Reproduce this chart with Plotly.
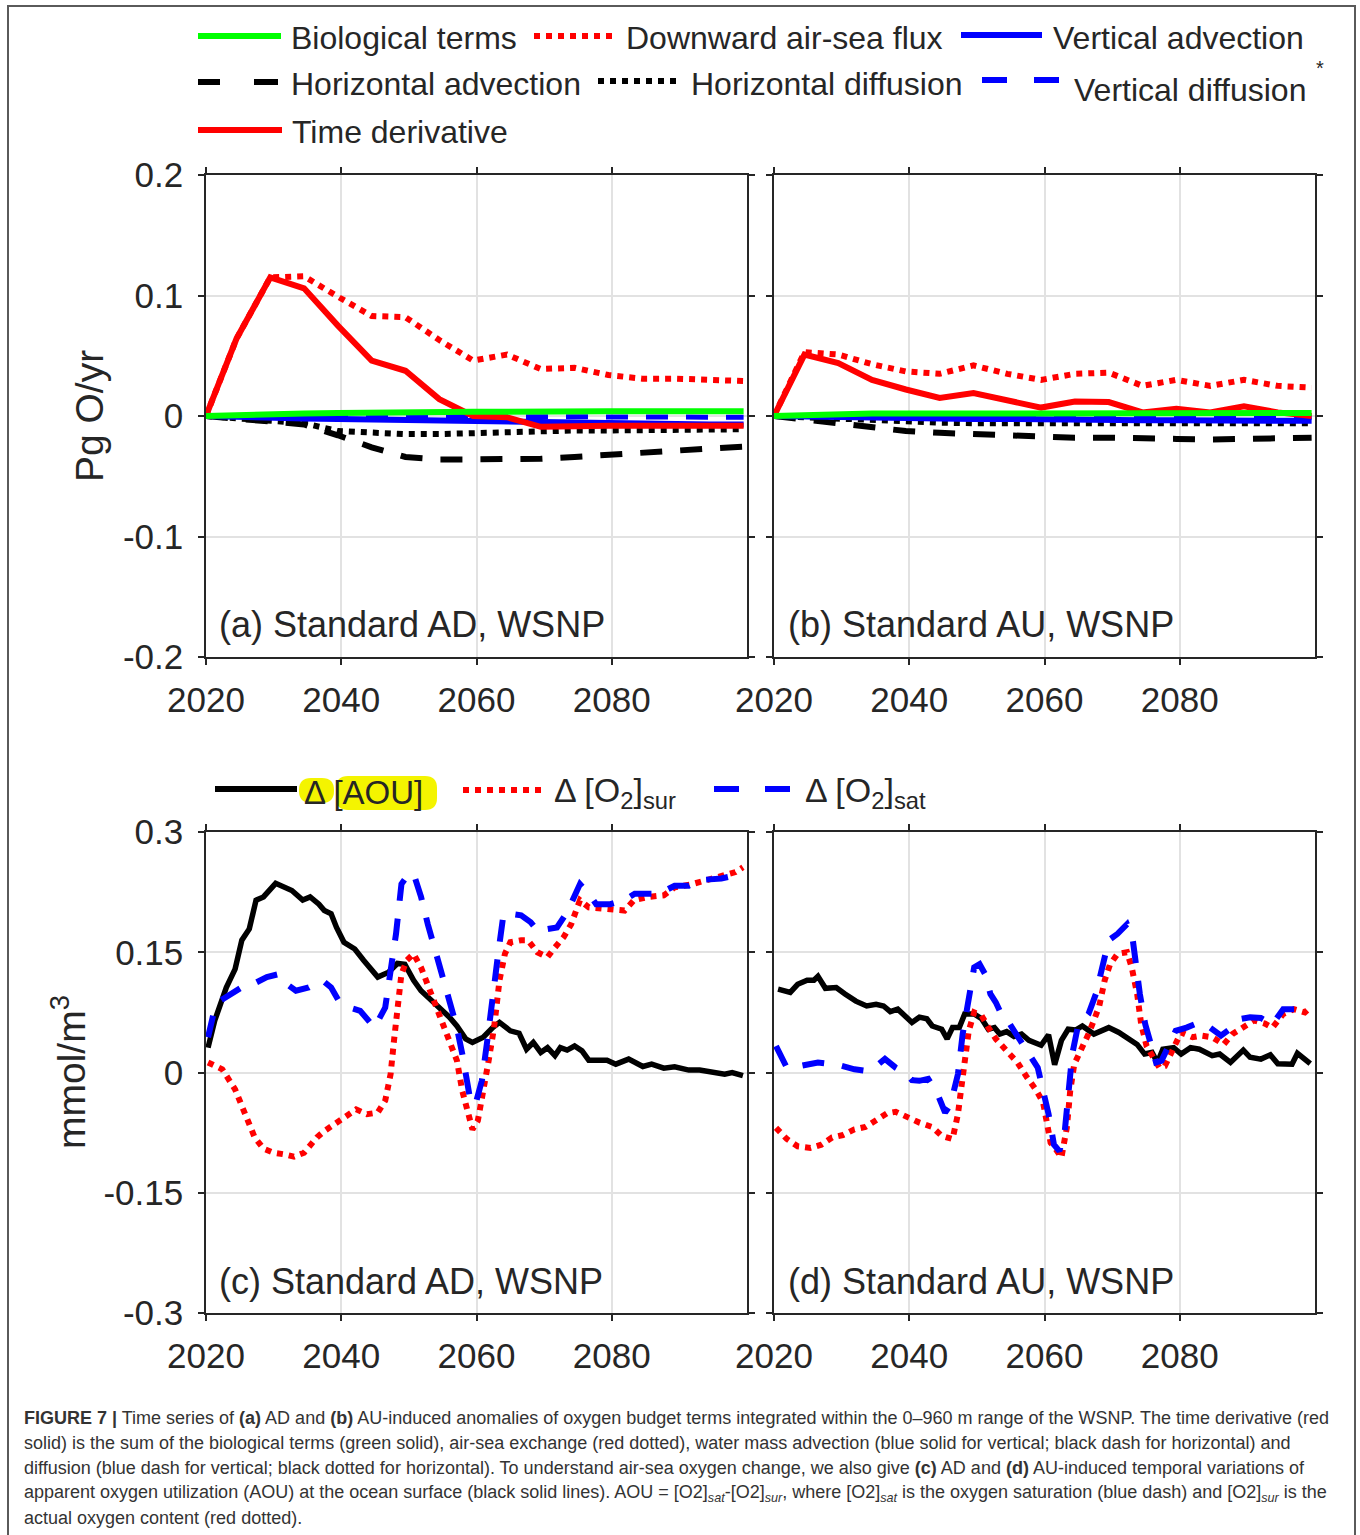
import plotly.graph_objects as go

W, H = 1360, 1535
FONT = "Liberation Sans, Arial, Helvetica, sans-serif"
INK = "#262626"


def px(x):
    return x / W


def py(y):
    return 1 - y / H


# ---------------- Panels (a) and (b): budget terms (Pg O/yr) ----------------
years5 = [2020, 2024.5, 2029.5, 2034.5, 2039.5, 2044.5, 2049.5, 2054.5, 2059.5,
          2064.5, 2069.5, 2074.5, 2079.5, 2084.5, 2089.5, 2094.5, 2099.5]

bio_a = [0, 0.001, 0.0015, 0.002, 0.0025, 0.003, 0.003, 0.0035, 0.0035,
         0.0035, 0.004, 0.004, 0.004, 0.004, 0.004, 0.004, 0.004]
airsea_a = [0, 0.064, 0.115, 0.116, 0.099, 0.083, 0.082, 0.063, 0.046,
            0.051, 0.039, 0.040, 0.034, 0.031, 0.031, 0.030, 0.029]
vadv_a = [0, -0.001, -0.0015, -0.002, -0.0025, -0.003, -0.0035, -0.004, -0.0045,
          -0.005, -0.0055, -0.006, -0.006, -0.0065, -0.0065, -0.007, -0.007]
hadv_a = [0, -0.002, -0.004, -0.007, -0.016, -0.026, -0.034, -0.036, -0.036,
          -0.036, -0.0355, -0.034, -0.032, -0.030, -0.029, -0.027, -0.0255]
hdiff_a = [0, -0.002, -0.003, -0.006, -0.0125, -0.014, -0.015, -0.015, -0.014,
           -0.013, -0.013, -0.012, -0.012, -0.012, -0.011, -0.011, -0.011]
vdiff_a = [0, 0, -0.0005, -0.0005, -0.001, -0.001, -0.001, -0.001, -0.001,
           -0.001, -0.001, -0.001, -0.001, -0.001, -0.001, -0.001, -0.001]
tend_a = [0, 0.064, 0.115, 0.106, 0.075, 0.046, 0.0375, 0.014, 0.0,
          -0.001, -0.009, -0.008, -0.008, -0.008, -0.008, -0.008, -0.008]

bio_b = [0, 0.001, 0.0015, 0.002, 0.002, 0.002, 0.002, 0.0025, 0.0025,
         0.0025, 0.0025, 0.0025, 0.0025, 0.0025, 0.0025, 0.0025, 0.0025]
airsea_b = [0, 0.053, 0.051, 0.043, 0.037, 0.035, 0.042, 0.035, 0.030,
            0.035, 0.036, 0.025, 0.030, 0.025, 0.030, 0.025, 0.0235]
vadv_b = [0, -0.0005, -0.001, -0.0015, -0.002, -0.002, -0.0025, -0.0025, -0.003,
          -0.003, -0.003, -0.0035, -0.0035, -0.0035, -0.004, -0.004, -0.004]
hadv_b = [0, -0.003, -0.006, -0.010, -0.0125, -0.014, -0.015, -0.017, -0.018,
          -0.018, -0.018, -0.019, -0.019, -0.0195, -0.019, -0.019, -0.018]
hdiff_b = [0, -0.001, -0.002, -0.004, -0.005, -0.0055, -0.006, -0.006, -0.006,
           -0.006, -0.006, -0.006, -0.006, -0.006, -0.006, -0.006, -0.006]
vdiff_b = [0, 0, -0.0005, -0.0005, -0.001, -0.001, -0.001, -0.001, -0.001,
           -0.001, -0.001, -0.001, -0.001, -0.001, -0.001, -0.001, -0.001]
tend_b = [0, 0.051, 0.044, 0.030, 0.022, 0.015, 0.019, 0.013, 0.007,
          0.012, 0.0116, 0.003, 0.006, 0.003, 0.008, 0.003, 0.0]

# ---------------- Panel (c): AD surface anomalies (mmol/m3) ----------------
aou_c_years = [2020.3, 2021.3, 2023.0, 2024.3, 2025.3, 2026.4, 2027.4, 2028.5, 2030.3,
               2032.7, 2034.3, 2035.4, 2036.7, 2037.5, 2038.5, 2039.3, 2040.4, 2042.0,
               2043.3, 2044.4, 2045.4, 2047.0, 2048.3, 2049.4, 2050.7, 2051.8, 2053.4,
               2054.4, 2056.0, 2057.1, 2058.4, 2059.4, 2061.0, 2062.4, 2063.4, 2065.0,
               2066.3, 2067.4, 2068.4, 2069.5, 2070.5, 2071.6, 2072.4, 2073.4, 2074.5,
               2075.6, 2076.6, 2079.3, 2080.6, 2082.5, 2084.6, 2085.9, 2087.7, 2089.3,
               2091.4, 2093.0, 2095.1, 2096.7, 2097.8, 2099.4]
aou_c = [0.031, 0.065, 0.106, 0.129, 0.165, 0.179, 0.215, 0.219, 0.236,
         0.227, 0.215, 0.219, 0.210, 0.202, 0.198, 0.181, 0.1625, 0.154,
         0.140, 0.129, 0.119, 0.125, 0.136, 0.135, 0.115, 0.102, 0.090,
         0.081, 0.069, 0.058, 0.042, 0.0375, 0.044, 0.056, 0.0625, 0.052,
         0.049, 0.029, 0.0375, 0.025, 0.031, 0.021, 0.031, 0.028, 0.033,
         0.027, 0.0154, 0.0154, 0.0104, 0.0167, 0.0075, 0.0104, 0.0054, 0.0071,
         0.003, 0.003, 0.0, -0.002, 0.0, -0.004]

sur_c_years = [2020.3, 2022.4, 2024.3, 2025.8, 2027.2, 2028.5, 2030.0, 2031.5, 2033.0,
               2034.5, 2035.5, 2036.4, 2037.5, 2039.0, 2040.7, 2042.2, 2043.8, 2045.4,
               2046.5, 2047.3, 2047.8, 2048.3, 2048.9, 2049.7, 2050.7, 2051.8, 2052.8,
               2053.9, 2054.9, 2056.0, 2057.1, 2057.9, 2058.7, 2059.4, 2060.2, 2061.0,
               2061.8, 2062.6, 2063.4, 2064.2, 2065.0, 2066.6, 2067.6, 2069.0, 2070.5,
               2071.6, 2072.9, 2074.0, 2075.3, 2076.6, 2078.8, 2080.2, 2081.9, 2083.3,
               2085.4, 2087.7, 2089.3, 2091.9, 2094.0, 2096.2, 2098.3, 2099.4]
sur_c = [0.0125, 0.004, -0.021, -0.052, -0.081, -0.095, -0.100, -0.102, -0.105,
         -0.100, -0.090, -0.081, -0.073, -0.065, -0.056, -0.046, -0.052, -0.050,
         -0.035, -0.002, 0.040, 0.081, 0.123, 0.140, 0.148, 0.131, 0.110,
         0.085, 0.065, 0.040, 0.015, -0.023, -0.052, -0.071, -0.060, -0.027,
         0.015, 0.056, 0.115, 0.148, 0.1625, 0.165, 0.165, 0.150, 0.144,
         0.156, 0.169, 0.185, 0.215, 0.206, 0.204, 0.204, 0.202, 0.215,
         0.219, 0.221, 0.231, 0.235, 0.240, 0.246, 0.250, 0.256]

sat_c_years = [2020.3, 2021.1, 2022.2, 2024.3, 2025.6, 2026.9, 2029.0, 2030.9, 2032.0,
               2033.3, 2035.2, 2037.2, 2038.5, 2039.6, 2041.2, 2042.8, 2043.8, 2044.9,
               2046.5, 2047.3, 2048.1, 2048.9, 2050.0, 2050.7, 2051.8, 2052.8, 2053.9,
               2054.9, 2056.0, 2057.1, 2057.9, 2058.7, 2059.2, 2060.0, 2060.8, 2061.6,
               2062.4, 2063.2, 2064.0, 2065.0, 2066.6, 2068.0, 2069.2, 2070.5, 2071.9,
               2073.4, 2075.3, 2076.6, 2077.7, 2079.8, 2081.9, 2083.4, 2084.8, 2087.0,
               2089.3, 2091.4, 2093.0, 2096.2, 2099.4]
sat_c = [0.044, 0.073, 0.090, 0.100, 0.108, 0.110, 0.119, 0.123, 0.110,
         0.102, 0.106, 0.115, 0.106, 0.090, 0.081, 0.077, 0.067, 0.056,
         0.081, 0.123, 0.173, 0.235, 0.248, 0.248, 0.219, 0.185, 0.152,
         0.123, 0.094, 0.056, 0.023, -0.019, -0.040, -0.035, -0.010, 0.040,
         0.102, 0.148, 0.198, 0.198, 0.196, 0.1875, 0.175, 0.179, 0.181,
         0.200, 0.235, 0.223, 0.210, 0.210, 0.215, 0.223, 0.223, 0.223,
         0.233, 0.233, 0.240, 0.242, 0.248]

# ---------------- Panel (d): AU surface anomalies (mmol/m3) ----------------
aou_d_years = [2020.6, 2022.4, 2023.5, 2024.9, 2025.9, 2026.5, 2027.6, 2029.2, 2030.5,
               2032.1, 2033.7, 2035.1, 2036.2, 2037.2, 2038.3, 2039.4, 2040.4, 2041.5,
               2042.6, 2043.4, 2044.8, 2045.6, 2046.4, 2047.4, 2048.2, 2049.6, 2050.7,
               2051.7, 2052.6, 2053.4, 2054.4, 2055.5, 2056.6, 2057.7, 2059.5, 2060.6,
               2061.5, 2062.5, 2063.5, 2064.6, 2065.6, 2067.3, 2069.5, 2071.0, 2072.6,
               2073.7, 2074.8, 2075.9, 2076.7, 2077.5, 2079.1, 2080.2, 2081.6, 2082.9,
               2084.8, 2085.9, 2087.5, 2089.4, 2090.4, 2092.0, 2093.4, 2094.5, 2096.6,
               2097.4, 2099.3]
aou_d = [0.104, 0.100, 0.110, 0.115, 0.115, 0.120, 0.105, 0.106, 0.098,
         0.089, 0.083, 0.085, 0.083, 0.076, 0.079, 0.071, 0.0625, 0.069,
         0.067, 0.058, 0.054, 0.042, 0.056, 0.056, 0.073, 0.073, 0.067,
         0.054, 0.056, 0.048, 0.051, 0.045, 0.048, 0.040, 0.034, 0.047,
         0.0096, 0.040, 0.054, 0.053, 0.058, 0.048, 0.056, 0.050, 0.042,
         0.035, 0.023, 0.025, 0.0125, 0.029, 0.031, 0.023, 0.031, 0.029,
         0.021, 0.023, 0.0125, 0.028, 0.019, 0.0167, 0.022, 0.011, 0.0104,
         0.024, 0.011]

sur_d_years = [2020.3, 2021.9, 2023.5, 2025.4, 2027.0, 2028.6, 2030.2, 2031.9, 2033.5,
               2035.1, 2036.7, 2038.0, 2039.9, 2041.5, 2043.4, 2044.8, 2046.4, 2047.2,
               2047.7, 2048.3, 2048.8, 2049.6, 2050.7, 2051.7, 2052.8, 2054.4, 2056.0,
               2057.4, 2058.7, 2059.8, 2060.3, 2060.9, 2061.7, 2062.5, 2063.3, 2063.8,
               2064.4, 2065.4, 2066.5, 2067.3, 2068.1, 2068.9, 2069.7, 2070.8, 2072.2,
               2072.9, 2073.7, 2074.3, 2075.1, 2076.2, 2077.0, 2077.8, 2078.9, 2080.2,
               2081.9, 2083.2, 2084.8, 2086.5, 2087.8, 2089.4, 2091.0, 2092.6, 2093.7,
               2095.3, 2096.9, 2098.5, 2099.0]
sur_d = [-0.069, -0.083, -0.092, -0.094, -0.090, -0.081, -0.078, -0.071, -0.068,
         -0.060, -0.051, -0.049, -0.057, -0.0625, -0.068, -0.079, -0.083, -0.052,
         -0.019, 0.019, 0.052, 0.075, 0.071, 0.056, 0.042, 0.027, 0.0125,
         -0.006, -0.021, -0.0375, -0.060, -0.0875, -0.096, -0.106, -0.069, -0.023,
         0.0104, 0.027, 0.048, 0.065, 0.083, 0.115, 0.135, 0.148, 0.150,
         0.131, 0.098, 0.060, 0.033, 0.017, 0.006, 0.008, 0.027, 0.050,
         0.044, 0.046, 0.044, 0.035, 0.048, 0.056, 0.065, 0.061, 0.056,
         0.073, 0.079, 0.075, 0.079]

sat_d_years = [2020.3, 2021.1, 2021.9, 2023.8, 2026.5, 2029.4, 2031.9, 2033.7, 2035.1,
               2036.4, 2038.0, 2039.6, 2040.4, 2041.5, 2042.8, 2044.2, 2045.3, 2046.1,
               2047.2, 2047.9, 2048.8, 2049.6, 2050.4, 2051.2, 2052.0, 2052.8, 2053.6,
               2054.4, 2055.5, 2056.6, 2057.9, 2059.0, 2059.8, 2060.6, 2061.4, 2062.2,
               2063.0, 2063.6, 2064.1, 2064.9, 2066.5, 2067.6, 2068.7, 2069.5, 2070.8,
               2072.2, 2073.0, 2073.5, 2074.1, 2074.9, 2075.7, 2076.5, 2077.3, 2078.1,
               2079.4, 2081.0, 2082.9, 2084.5, 2086.1, 2087.7, 2089.1, 2090.4, 2092.0,
               2093.7, 2095.3, 2096.9, 2099.0]
sat_d = [0.033, 0.019, 0.006, 0.008, 0.0125, 0.0096, 0.004, 0.002, 0.008,
         0.017, 0.006, -0.002, -0.0096, -0.0104, -0.008, -0.027, -0.050, -0.040,
         -0.002, 0.048, 0.090, 0.131, 0.135, 0.123, 0.098, 0.0875, 0.073,
         0.067, 0.052, 0.0375, 0.019, 0.006, -0.023, -0.052, -0.090, -0.098,
         -0.073, -0.027, 0.023, 0.056, 0.073, 0.098, 0.140, 0.165, 0.173,
         0.185, 0.169, 0.131, 0.098, 0.060, 0.035, 0.0125, 0.0146, 0.029,
         0.052, 0.056, 0.0625, 0.056, 0.046, 0.056, 0.067, 0.069, 0.068,
         0.060, 0.079, 0.079, 0.079]

# ---------------- tick definitions / labels ----------------
x_ticks = [2020, 2040, 2060, 2080]
x_ticktext = ["2020", "2040", "2060", "2080"]
y_ticks_top = [-0.2, -0.1, 0, 0.1, 0.2]
y_ticktext_top = ["-0.2", "-0.1", "0", "0.1", "0.2"]
y_ticks_bot = [-0.3, -0.15, 0, 0.15, 0.3]
y_ticktext_bot = ["-0.3", "-0.15", "0", "0.15", "0.3"]

GREEN = "#00ff00"
RED = "#ff0000"
BLUE = "#0000ff"
BLACK = "#000000"
HDASH = "22px,18px"
VDASH = "22px,18px"
DOT = "6px,6px"

fig = go.Figure()


def add(x, y, color, dash, width, ax):
    fig.add_trace(go.Scatter(
        x=x, y=y, mode="lines",
        line=dict(color=color, dash=dash, width=width),
        xaxis="x" + ax, yaxis="y" + ax,
        showlegend=False, hoverinfo="skip"))


for ax, (bio, airsea, vadv, hadv, hdiff, vdiff, tend) in [
        ("", (bio_a, airsea_a, vadv_a, hadv_a, hdiff_a, vdiff_a, tend_a)),
        ("2", (bio_b, airsea_b, vadv_b, hadv_b, hdiff_b, vdiff_b, tend_b))]:
    add(years5, hadv, BLACK, HDASH, 6, ax)
    add(years5, hdiff, BLACK, DOT, 6, ax)
    add(years5, vadv, BLUE, "solid", 6, ax)
    add(years5, vdiff, BLUE, VDASH, 5, ax)
    add(years5, airsea, RED, DOT, 6, ax)
    add(years5, tend, RED, "solid", 6, ax)
    add(years5, bio, GREEN, "solid", 6, ax)

add(aou_c_years, aou_c, BLACK, "solid", 5.5, "3")
add(sur_c_years, sur_c, RED, DOT, 6, "3")
add(sat_c_years, sat_c, BLUE, VDASH, 6, "3")
add(aou_d_years, aou_d, BLACK, "solid", 5.5, "4")
add(sur_d_years, sur_d, RED, DOT, 6, "4")
add(sat_d_years, sat_d, BLUE, VDASH, 6, "4")

# ---------------- axes ----------------
XL = [206, 747]
XR = [774, 1315]
YT = [175, 657]
YB = [832, 1313]


def xaxis(dom, anchor):
    return dict(domain=[px(dom[0]), px(dom[1])], anchor=anchor, range=[2020, 2100],
                tickvals=x_ticks, ticktext=x_ticktext, ticks="outside", ticklen=6,
                tickwidth=1.5, tickcolor=INK, showline=True, linecolor=INK,
                linewidth=1.5, mirror="allticks", showgrid=True, gridcolor="#e2e2e2",
                gridwidth=1.5, zeroline=False, ticklabelstandoff=5, automargin=False,
                tickfont=dict(family=FONT, size=35, color=INK))


def yaxis(dom, anchor, vals, text, show):
    return dict(domain=[py(dom[1]), py(dom[0])], anchor=anchor,
                range=[vals[0], vals[-1]], tickvals=vals, ticktext=text,
                showticklabels=show, ticks="outside", ticklen=6, tickwidth=1.5,
                tickcolor=INK, showline=True, linecolor=INK, linewidth=1.5,
                mirror="allticks", showgrid=True, gridcolor="#e2e2e2", gridwidth=1.5,
                zeroline=False, ticklabelstandoff=8, automargin=False,
                tickfont=dict(family=FONT, size=35, color=INK))


layout = dict(
    width=W, height=H, margin=dict(l=0, r=0, t=0, b=0, pad=0, autoexpand=False),
    paper_bgcolor="white", plot_bgcolor="white", showlegend=False,
    xaxis=xaxis(XL, "y"), yaxis=yaxis(YT, "x", y_ticks_top, y_ticktext_top, True),
    xaxis2=xaxis(XR, "y2"), yaxis2=yaxis(YT, "x2", y_ticks_top, y_ticktext_top, False),
    xaxis3=xaxis(XL, "y3"), yaxis3=yaxis(YB, "x3", y_ticks_bot, y_ticktext_bot, True),
    xaxis4=xaxis(XR, "y4"), yaxis4=yaxis(YB, "x4", y_ticks_bot, y_ticktext_bot, False),
)
fig.update_layout(**layout)

shapes = []
annots = []


def seg(x0, x1, y, color, dash="solid", width=6):
    shapes.append(dict(type="line", xref="paper", yref="paper",
                       x0=px(x0), x1=px(x1), y0=py(y), y1=py(y),
                       line=dict(color=color, dash=dash, width=width)))


def text(x, y, s, size=32.5, anchor="left", color=INK, angle=0, family=FONT):
    annots.append(dict(xref="paper", yref="paper", x=px(x), y=py(y), text=s,
                       showarrow=False, xanchor=anchor, yanchor="middle",
                       textangle=angle, font=dict(family=family, size=size, color=color)))


# frame around the figure
shapes.append(dict(type="rect", xref="paper", yref="paper", x0=px(8), x1=px(1355),
                   y0=py(1560), y1=py(6), line=dict(color="#5a5a5a", width=2)))

# top legend
seg(198, 281, 36, GREEN)
text(289, 38, "Biological terms", size=32)
seg(534, 614, 36, RED, "6px,6px")
text(624, 38, "Downward air-sea flux", size=32)
seg(961, 1042, 35, BLUE)
text(1051, 38, "Vertical advection", size=32)
seg(198, 220, 82, BLACK)
seg(254, 278, 82, BLACK)
text(289, 84, "Horizontal advection", size=32)
seg(598, 680, 81, BLACK, "6px,6px")
text(689, 84, "Horizontal diffusion", size=32)
seg(982, 1007, 80, BLUE)
seg(1034, 1059, 80, BLUE)
text(1072, 90, "Vertical diffusion", size=32)
text(1314, 68, "*", size=20)
seg(198, 282, 130, RED)
text(290, 132, "Time derivative", size=32)


# bottom legend with yellow highlight
def rounded(x0, x1, y0, y1, r):
    rx, ry = px(r) - px(0), py(0) - py(r)
    X0, X1, Y0, Y1 = px(x0), px(x1), py(y1), py(y0)
    return (f"M{X0+rx},{Y0} L{X1-rx},{Y0} Q{X1},{Y0} {X1},{Y0+ry} "
            f"L{X1},{Y1-ry} Q{X1},{Y1} {X1-rx},{Y1} L{X0+rx},{Y1} "
            f"Q{X0},{Y1} {X0},{Y1-ry} L{X0},{Y0+ry} Q{X0},{Y0} {X0+rx},{Y0} Z")


for (a, b, c, d) in [(299, 334, 778, 803), (336, 437, 776, 810)]:
    shapes.append(dict(type="path", xref="paper", yref="paper",
                       path=rounded(a, b, c, d, 12), fillcolor="#f4f400",
                       line=dict(width=0), layer="below"))
seg(215, 297, 789, BLACK)
text(302, 792, "Δ [AOU]", size=33)
seg(463, 544, 790, RED, "6px,6px")
text(552, 792, "Δ [O<sub>2</sub>]<sub>sur</sub>", size=34)
seg(714, 739, 789, BLUE)
seg(765, 790, 789, BLUE)
text(803, 792, "Δ [O<sub>2</sub>]<sub>sat</sub>", size=34)

# panel labels
text(217, 625, "(a) Standard AD, WSNP", size=36)
text(786, 625, "(b) Standard AU, WSNP", size=36)
text(217, 1281, "(c) Standard AD, WSNP", size=36)
text(786, 1281, "(d) Standard AU, WSNP", size=36)

# axis titles
text(90, 416, "Pg O/yr", size=39, anchor="center", angle=-90)
text(68, 1072, "mmol/m<sup>3</sup>", size=39, anchor="center", angle=-90)

# caption
CAP = "#333333"
cap_lines = [
    "<b>FIGURE 7 |</b> Time series of <b>(a)</b> AD and <b>(b)</b> AU-induced anomalies of oxygen budget terms integrated within the 0–960 m range of the WSNP. The time derivative (red",
    "solid) is the sum of the biological terms (green solid), air-sea exchange (red dotted), water mass advection (blue solid for vertical; black dash for horizontal) and",
    "diffusion (blue dash for vertical; black dotted for horizontal). To understand air-sea oxygen change, we also give <b>(c)</b> AD and <b>(d)</b> AU-induced temporal variations of",
    "apparent oxygen utilization (AOU) at the ocean surface (black solid lines). AOU = [O2]<sub><i>sat</i></sub>-[O2]<sub><i>sur</i></sub>, where [O2]<sub><i>sat</i></sub> is the oxygen saturation (blue dash) and [O2]<sub><i>sur</i></sub> is the",
    "actual oxygen content (red dotted).",
]
cap_y = [1418, 1443, 1468, 1493, 1518]
for s, yy in zip(cap_lines, cap_y):
    text(22, yy, s, size=18, color=CAP)

fig.update_layout(shapes=shapes, annotations=annots)
fig.write_html("out.html", config={"displayModeBar": False},
               post_script="document.body.style.margin='0';document.body.style.padding='0';")
